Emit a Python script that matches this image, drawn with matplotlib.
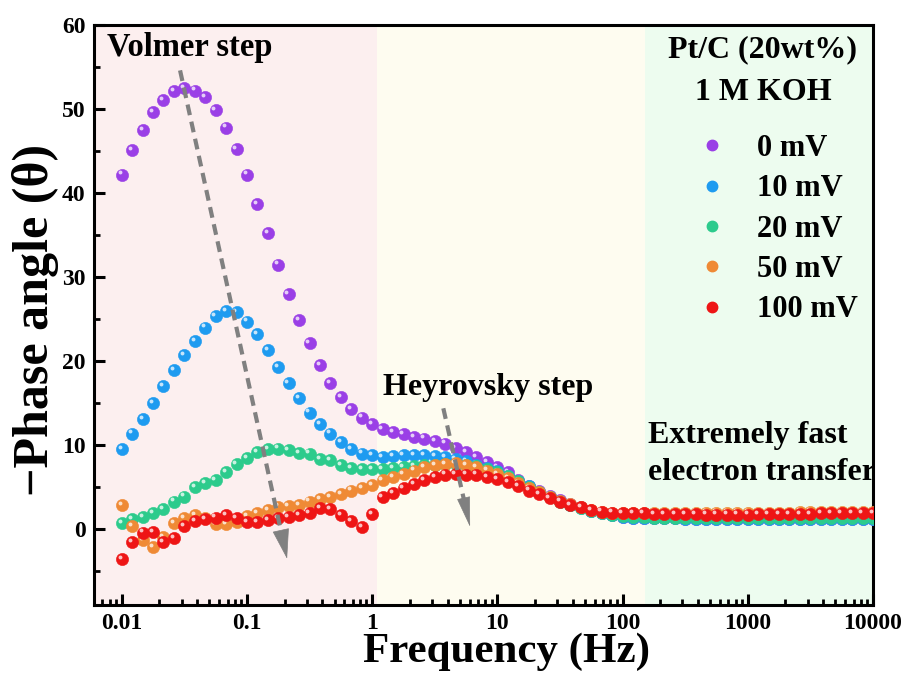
import matplotlib
matplotlib.use("Agg")
import matplotlib.pyplot as plt
import matplotlib.transforms as mtransforms
from matplotlib.lines import Line2D
from matplotlib.ticker import LogLocator, FixedLocator, NullFormatter
import numpy as np

plt.rcParams["font.family"] = ["Liberation Serif", "DejaVu Serif"]
plt.rcParams["font.weight"] = "bold"

# Messfrequenzen (12 Punkte pro Dekade)
freq = [0.01, 0.0121, 0.0147, 0.0178, 0.0215, 0.0261, 0.0316, 0.0383, 0.0464, 0.0562, 0.0681, 0.0825,
        0.1, 0.121, 0.147, 0.178, 0.215, 0.261, 0.316, 0.383, 0.464, 0.562, 0.681, 0.825,
        1, 1.21, 1.47, 1.78, 2.15, 2.61, 3.16, 3.83, 4.64, 5.62, 6.81, 8.25,
        10, 12.1, 14.7, 17.8, 21.5, 26.1, 31.6, 38.3, 46.4, 56.2, 68.1, 82.5,
        100, 121, 147, 178, 215, 261, 316, 383, 464, 562, 681, 825,
        1000, 1210, 1470, 1780, 2150, 2610, 3160, 3830, 4640, 5620, 6810, 8250, 10000]

phase_0mV = [42.2, 45.1, 47.5, 49.6, 51.1, 52.1, 52.5, 52.2, 51.4, 49.9, 47.8, 45.2,
             42.2, 38.7, 35.2, 31.5, 28.0, 24.9, 22.2, 19.5, 17.4, 15.7, 14.3, 13.3,
             12.5, 11.9, 11.6, 11.3, 11.0, 10.8, 10.5, 10.2, 9.7, 9.2, 8.6, 8.0,
             7.4, 6.8, 5.9, 5.2, 4.6, 4.0, 3.5, 3.0, 2.6, 2.2, 1.9, 1.7,
             1.5, 1.4, 1.4, 1.3, 1.3, 1.3, 1.2, 1.2, 1.2, 1.2, 1.2, 1.2,
             1.2, 1.2, 1.2, 1.2, 1.2, 1.2, 1.2, 1.2, 1.2, 1.2, 1.2, 1.2, 1.2]
phase_10mV = [9.5, 11.4, 13.1, 15.0, 17.0, 18.9, 20.7, 22.4, 24.0, 25.4, 26.0, 25.8,
              24.7, 23.2, 21.3, 19.3, 17.4, 15.6, 13.9, 12.5, 11.4, 10.4, 9.5, 9.0,
              8.8, 8.6, 8.7, 8.8, 8.8, 8.8, 8.7, 8.6, 8.4, 8.1, 7.7, 7.3,
              6.9, 6.4, 5.8, 5.1, 4.5, 3.9, 3.4, 2.9, 2.5, 2.2, 1.9, 1.7,
              1.5, 1.4, 1.4, 1.3, 1.3, 1.3, 1.2, 1.2, 1.2, 1.2, 1.2, 1.2,
              1.2, 1.2, 1.2, 1.2, 1.2, 1.2, 1.2, 1.2, 1.2, 1.2, 1.2, 1.2, 1.2]
phase_20mV = [0.7, 1.2, 1.5, 1.9, 2.4, 3.3, 3.9, 5.0, 5.5, 5.9, 6.8, 7.8,
              8.5, 9.2, 9.5, 9.6, 9.4, 9.1, 9.0, 8.4, 8.2, 7.6, 7.3, 7.2,
              7.2, 7.2, 7.3, 7.4, 7.5, 7.6, 7.7, 7.8, 7.8, 7.7, 7.5, 7.2,
              6.8, 6.3, 5.7, 5.0, 4.4, 3.8, 3.3, 2.9, 2.5, 2.2, 1.9, 1.7,
              1.6, 1.5, 1.5, 1.4, 1.4, 1.4, 1.3, 1.3, 1.3, 1.3, 1.3, 1.3,
              1.3, 1.3, 1.3, 1.3, 1.3, 1.3, 1.3, 1.3, 1.3, 1.3, 1.3, 1.3, 1.3]
phase_50mV = [2.9, 0.4, -1.3, -2.1, -0.9, 0.7, 1.3, 1.7, 1.4, 0.6, 0.6, 0.9,
              1.6, 1.9, 2.3, 2.7, 2.8, 2.9, 3.3, 3.6, 3.8, 4.2, 4.6, 4.9,
              5.3, 5.9, 6.2, 6.6, 7.0, 7.4, 7.6, 7.8, 7.9, 7.6, 7.4, 7.0,
              6.6, 6.1, 5.5, 4.9, 4.4, 3.9, 3.4, 3.0, 2.6, 2.3, 2.1, 2.0,
              2.0, 2.0, 2.0, 2.0, 2.0, 2.0, 2.0, 2.0, 2.0, 2.0, 2.0, 2.0,
              2.0, 2.0, 2.0, 2.0, 2.0, 2.1, 2.1, 2.1, 2.1, 2.1, 2.1, 2.1, 2.1]
phase_100mV = [-3.5, -1.5, -0.4, -0.3, -1.5, -1.0, 0.4, 1.0, 1.2, 1.4, 1.7, 1.3,
               0.9, 0.9, 1.1, 1.3, 1.5, 1.7, 1.9, 2.5, 2.4, 1.7, 1.0, 0.3,
               1.8, 3.8, 4.3, 4.9, 5.4, 5.9, 6.2, 6.5, 6.6, 6.5, 6.5, 6.2,
               6.0, 5.6, 5.1, 4.6, 4.2, 3.7, 3.3, 2.9, 2.6, 2.3, 2.1, 2.0,
               1.95, 1.9, 1.9, 1.85, 1.85, 1.8, 1.8, 1.8, 1.75, 1.75, 1.75, 1.75,
               1.75, 1.8, 1.8, 1.8, 1.85, 1.85, 1.85, 1.9, 1.9, 1.9, 1.95, 1.95, 1.95]

labels = ["0 mV", "10 mV", "20 mV", "50 mV", "100 mV"]
series = [phase_0mV, phase_10mV, phase_20mV, phase_50mV, phase_100mV]
colors = ["#9a3fe6", "#1e9bf0", "#2ccb8c", "#ef8a35", "#ee1515"]

# Bereichsgrenzen (Hz) fuer die Hintergrundfarben
region_edges = [1.1, 150]
region_colors = ["#fcefef", "#fefcf0", "#edfcef"]

fig = plt.figure(figsize=(9.05, 6.75), dpi=100)
ax = fig.add_axes([0.1039, 0.1037, 0.8607, 0.8593])
ax.set_xscale("log")
ax.set_xlim(0.006, 10000)
ax.set_ylim(-9, 60)

# Hintergrund
x0, x1 = ax.get_xlim()
bounds = [x0] + region_edges + [x1]
for i in range(3):
    ax.axvspan(bounds[i], bounds[i + 1], color=region_colors[i], zorder=0, lw=0)

# Kugel-Marker: Grundkreis + kleiner Glanzpunkt
shine = mtransforms.offset_copy(ax.transData, fig=fig, x=-1.6, y=1.6, units="points")
for vals, col in zip(series, colors):
    ax.plot(freq, vals, "o", ms=8.8, color=col, mec=col, mew=0.4, zorder=3)
    ax.plot(freq, vals, "o", ms=2.8, color="white", mec="none", alpha=0.75,
            transform=shine, zorder=3)


def dashed_arrow(start, end, head_frac, head_width):
    """Gestrichelte Linie mit gefuellter Pfeilspitze (log-x)"""
    lx0, lx1 = np.log10(start[0]), np.log10(end[0])
    base = (10 ** (lx1 - head_frac * (lx1 - lx0)), end[1] - head_frac * (end[1] - start[1]))
    ax.plot([start[0], base[0]], [start[1], base[1]], color="#808080", lw=3,
            ls=(0, (2.6, 1.6)), zorder=4)
    ax.annotate("", xy=end, xytext=base,
                arrowprops=dict(arrowstyle=f"-|>,head_length=1.0,head_width={head_width}",
                                color="#808080", lw=0.5, shrinkA=0, shrinkB=0,
                                mutation_scale=20), zorder=4)


dashed_arrow((0.0292, 54.6), (0.209, -3.5), 0.056, 0.28)
dashed_arrow((3.7, 14.4), (6.05, 0.3), 0.23, 0.22)

ax.text(0.0167, 0.9466, "Volmer step", transform=ax.transAxes, fontsize=23.5,
        fontweight="bold", va="baseline")
ax.text(0.371, 0.362, "Heyrovsky step", transform=ax.transAxes, fontsize=23,
        fontweight="bold", va="baseline")
ax.text(0.711, 0.279, "Extremely fast", transform=ax.transAxes, fontsize=23,
        fontweight="bold", va="baseline", clip_on=True)
ax.text(0.711, 0.2155, "electron transfer", transform=ax.transAxes, fontsize=23,
        fontweight="bold", va="baseline", clip_on=True)

# Legendenkopf
ax.text(0.8588, 0.957, "Pt/C (20wt%)", transform=ax.transAxes, fontsize=23,
        fontweight="bold", ha="center", va="center")
ax.text(0.8588, 0.883, "1 M KOH", transform=ax.transAxes, fontsize=23,
        fontweight="bold", ha="center", va="center")

handles = [Line2D([], [], ls="none", marker="o", ms=7.5, color=c) for c in colors]
leg = ax.legend(handles, labels, loc="center right",
                bbox_to_anchor=(0.981, 0.648), frameon=False,
                prop={"size": 22, "weight": "bold"},
                handlelength=1.0, handletextpad=0.97, labelspacing=0.37,
                borderpad=0, borderaxespad=0)

# Achsen
for sp in ax.spines.values():
    sp.set_linewidth(2.2)
ax.yaxis.set_major_locator(FixedLocator([0, 10, 20, 30, 40, 50, 60]))
ax.yaxis.set_minor_locator(FixedLocator([-5, 5, 15, 25, 35, 45, 55]))
ax.xaxis.set_minor_locator(LogLocator(base=10, subs=np.arange(2, 10), numticks=20))
ax.xaxis.set_minor_formatter(NullFormatter())
xt = [0.01, 0.1, 1, 10, 100, 1000, 10000]
ax.set_xticks(xt)
ax.set_xticklabels(["0.01", "0.1", "1", "10", "100", "1000", "10000"])
ax.set_xlim(0.006, 10000)
ax.tick_params(which="major", direction="in", length=8, width=2.2, labelsize=17, pad=6)
ax.tick_params(which="minor", direction="in", length=4.5, width=2.0)
ax.tick_params(top=False, right=False)
for lab in ax.get_xticklabels() + ax.get_yticklabels():
    lab.set_fontweight("bold")

ax.set_xlabel("Frequency (Hz)", fontsize=31, fontweight="bold")
ax.xaxis.set_label_coords(0.529, -0.081)
ax.xaxis.label.set_va("center")
ax.set_ylabel("\u2212Phase angle (\u03b8)", fontsize=36, fontweight="bold")
ax.yaxis.set_label_coords(-0.0757, 0.491)
ax.yaxis.label.set_va("center")

fig.savefig("out.png", dpi=100)
